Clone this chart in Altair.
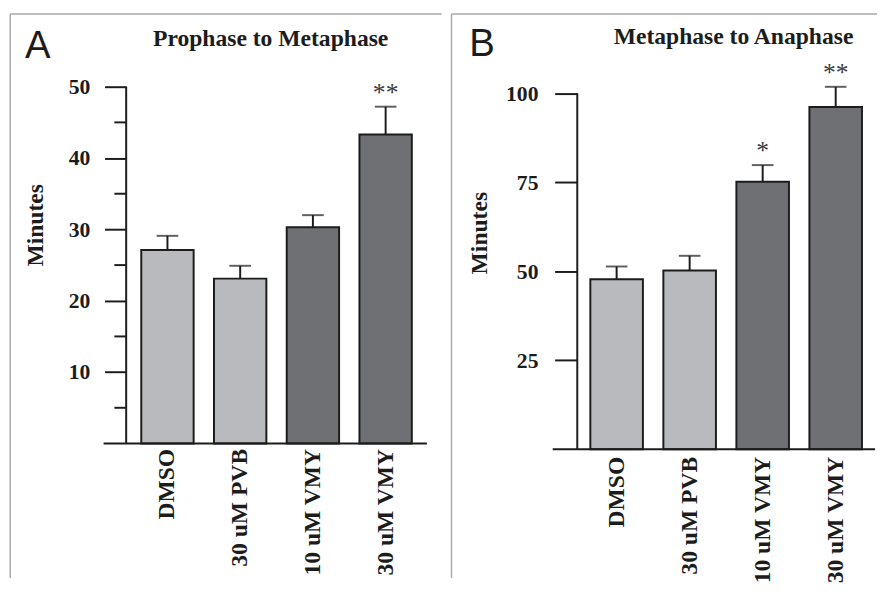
import altair as alt
import pandas as pd

# ---------------- data ----------------
categories = ["DMSO", "30 uM PVB", "10 uM VMY", "30 uM VMY"]
groups = ["light", "light", "dark", "dark"]

a_means = [27.1, 23.1, 30.3, 43.3]
a_upper = [29.1, 24.9, 32.0, 47.2]
a_stars = ["", "", "", "**"]
a_major = [10, 20, 30, 40, 50]
a_minor = [5, 15, 25, 35, 45]
a_axis_top = 50

b_means = [47.8, 50.3, 75.2, 96.2]
b_upper = [51.4, 54.4, 79.9, 101.9]
b_stars = ["", "", "*", "**"]
b_major = [25, 50, 75, 100]
b_minor = []
b_axis_top = 100

INK = "#1c1c1c"
LIGHT = "#b9babd"
DARK = "#6f7074"
FRAME = "#a9a9a9"
SERIF = "Liberation Serif"
SANS = "Liberation Sans"


def txt(s, x, y, **kw):
    return alt.Chart(pd.DataFrame({"t": [s]})).mark_text(**kw).encode(
        text="t:N", x=alt.value(x), y=alt.value(y))


def frule(x, y, x2=None, y2=None, color=FRAME, width=1.5):
    enc = dict(x=alt.value(x), y=alt.value(y))
    if x2 is not None:
        enc["x2"] = alt.value(x2)
    if y2 is not None:
        enc["y2"] = alt.value(y2)
    return alt.Chart(pd.DataFrame({"d": [0]})).mark_rule(
        color=color, strokeWidth=width).encode(**enc)


def panel(means, upper, stars, ymax, axis_top, major, minor, W, H, pad_outer,
          tick_size, label_pad, xlab_pad, frame_left, frame_top, frame_right,
          frame_bottom, xline_left, letter, letter_xy, title, title_xy,
          minutes_xy):
    df = pd.DataFrame({"cat": categories, "grp": groups, "mean": means,
                       "upper": upper, "star": stars})
    yscale = alt.Scale(domain=[0, ymax], nice=False, zero=True)
    yax = alt.Axis(values=major, tickSize=tick_size, labelPadding=label_pad,
                   title=None, grid=False, domain=False,
                   tickColor=INK, tickWidth=2, labelFont=SERIF,
                   labelFontWeight="bold", labelFontSize=22, labelColor=INK)
    xax = alt.Axis(title=None, labelAngle=-90, domain=False, ticks=False,
                   tickSize=0, labelPadding=xlab_pad, labelFont=SERIF,
                   labelFontWeight="bold", labelFontSize=24, labelColor=INK,
                   labelAlign="right", labelBaseline="middle")
    x = alt.X("cat:N", sort=categories,
              scale=alt.Scale(paddingInner=0.28, paddingOuter=pad_outer),
              axis=xax)
    base = alt.Chart(df)
    bars = base.mark_bar(stroke=INK, strokeWidth=2).encode(
        x=x,
        y=alt.Y("mean:Q", scale=yscale, axis=yax),
        color=alt.Color("grp:N", scale=alt.Scale(domain=["light", "dark"],
                                                 range=[LIGHT, DARK]),
                        legend=None))
    stem = base.mark_rule(color=INK, strokeWidth=2).encode(
        x=x, y=alt.Y("mean:Q", scale=yscale, axis=yax), y2="upper:Q")
    cap = base.mark_tick(color=INK, thickness=2, size=22).encode(
        x=x, y=alt.Y("upper:Q", scale=yscale, axis=yax))
    star = base.mark_text(font=SERIF, fontSize=26, color="#3a3a3a",
                          baseline="alphabetic", dy=-6).encode(
        x=x, y=alt.Y("upper:Q", scale=yscale, axis=yax), text="star:N")
    # y axis line from 0 to the top tick
    ydf = pd.DataFrame({"lo": [0], "hi": [axis_top]})
    yline = alt.Chart(ydf).mark_rule(color=INK, strokeWidth=2).encode(
        x=alt.value(0), y=alt.Y("lo:Q", scale=yscale, axis=yax), y2="hi:Q")
    layers = [bars, stem, cap, star, yline]
    if minor:
        mdf = pd.DataFrame({"v": minor})
        layers.append(alt.Chart(mdf).mark_rule(color=INK, strokeWidth=2).encode(
            y=alt.Y("v:Q", scale=yscale, axis=yax),
            x=alt.value(-12), x2=alt.value(0)))
    # x-axis line (extends left of the y axis)
    layers.append(frule(xline_left, H, x2=W, color=INK, width=2))
    # panel frame
    layers.append(frule(frame_left, frame_top, y2=frame_bottom))
    layers.append(frule(frame_left, frame_top, x2=frame_right))
    # texts
    layers.append(txt(letter, letter_xy[0], letter_xy[1], font=SANS,
                      fontSize=39, align="left", baseline="alphabetic",
                      color=INK))
    layers.append(txt(title, title_xy[0], title_xy[1], font=SERIF,
                      fontWeight="bold", fontSize=24, align="center",
                      baseline="alphabetic", color=INK))
    layers.append(txt("Minutes", minutes_xy[0], minutes_xy[1], font=SERIF,
                      fontWeight="bold", fontSize=24, align="center",
                      baseline="alphabetic", angle=270, color=INK))
    return alt.layer(*layers).properties(width=W, height=H)


pA = panel(a_means, a_upper, a_stars, 50, a_axis_top, a_major, a_minor,
           W=306, H=363, pad_outer=0.2075, tick_size=22, label_pad=15,
           xlab_pad=5, frame_left=-118, frame_top=-74, frame_right=321,
           frame_bottom=500, xline_left=-23, letter="A",
           letter_xy=(-103, -29), title="Prophase to Metaphase",
           title_xy=(147, -41), minutes_xy=(-85, 141))

pB = panel(b_means, b_upper, b_stars, 101.93, b_axis_top, b_major, b_minor,
           W=303, H=369, pad_outer=0.179, tick_size=23, label_pad=17,
           xlab_pad=7, frame_left=-128, frame_top=-74, frame_right=305,
           frame_bottom=500, xline_left=-25, letter="B",
           letter_xy=(-110, -31), title="Metaphase to Anaphase",
           title_xy=(159, -43), minutes_xy=(-92, 149))

chart = alt.hconcat(pA, pB, spacing=8).properties(
    padding={"left": 1.25, "top": 0, "right": 0, "bottom": 0}
).configure_view(strokeWidth=0)

chart.save("out.html", embed_options={"renderer": "svg", "actions": False})
